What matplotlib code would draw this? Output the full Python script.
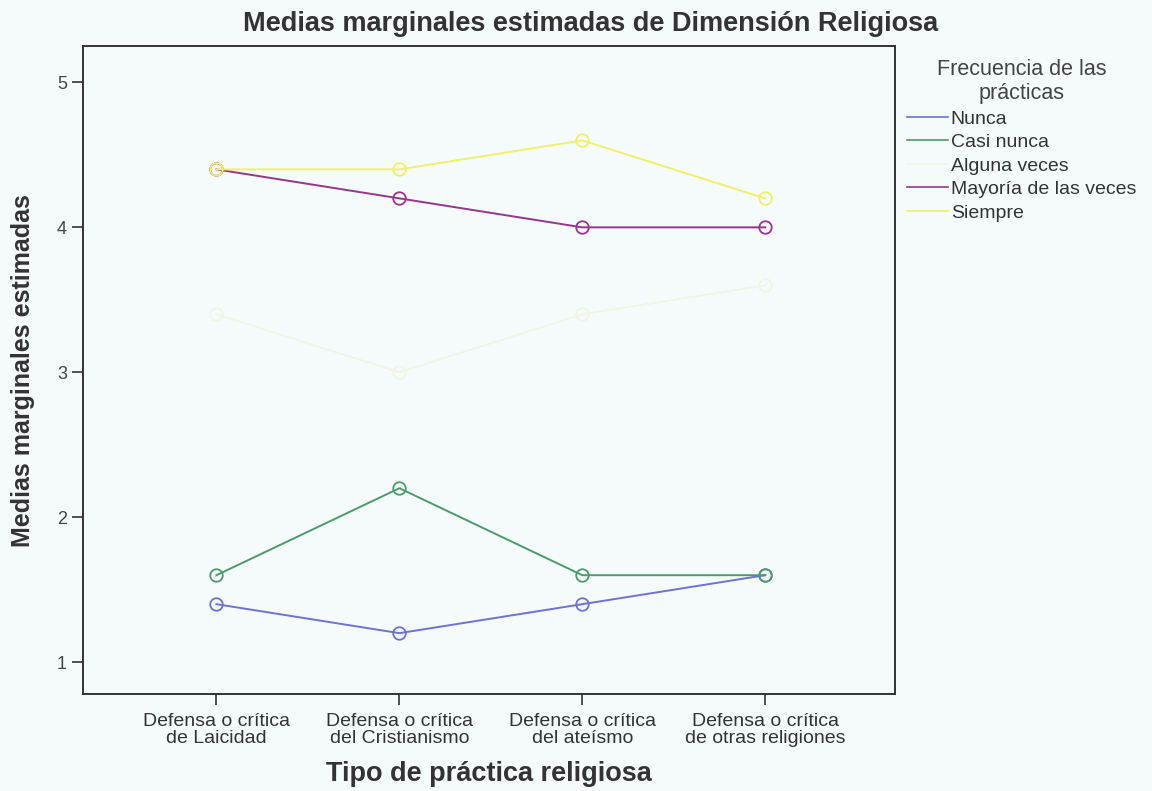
import numpy as np
import matplotlib
matplotlib.use('Agg')
import matplotlib.pyplot as plt

plt.rcParams['font.family'] = ['Liberation Sans', 'DejaVu Sans']

categories = ['Defensa o crítica\nde Laicidad', 'Defensa o crítica\ndel Cristianismo',
              'Defensa o crítica\ndel ateísmo', 'Defensa o crítica\nde otras religiones']
series_names = ['Nunca', 'Casi nunca', 'Alguna veces', 'Mayoría de las veces', 'Siempre']
nunca = [1.4, 1.2, 1.4, 1.6]
casi_nunca = [1.6, 2.2, 1.6, 1.6]
alguna_veces = [3.4, 3.0, 3.4, 3.6]
mayoria = [4.4, 4.2, 4.0, 4.0]
siempre = [4.4, 4.4, 4.6, 4.2]
yticks = [1, 2, 3, 4, 5]

values = [nunca, casi_nunca, alguna_veces, mayoria, siempre]
colors = ['#6f70d8', '#4e9a6c', '#f1f5e6', '#98358c', '#f0f06a']
bg = '#f5fbfb'

fig = plt.figure(figsize=(11.52, 7.91), dpi=100, facecolor=bg)
ax = fig.add_axes([0.072, 0.1226, 0.705, 0.819], facecolor=bg)

x = np.arange(len(categories))
for name, v, c in zip(series_names, values, colors):
    ax.plot(x, v, '-', color=c, lw=1.4, marker='o', ms=9,
            markerfacecolor='none', markeredgecolor=c, mew=1.3, label=name)

ax.set_xlim(-0.73, 3.71)
ax.set_ylim(0.78, 5.25)
ax.set_xticks(x)
ax.set_xticklabels(categories, fontsize=14, color='#333333', linespacing=0.95)
ax.set_yticks(yticks)
ax.set_yticklabels([str(t) for t in yticks], fontsize=13, color='#444444')
ax.tick_params(axis='both', length=8, width=1.2, color='#333333')
ax.tick_params(axis='x', pad=6)
for s in ax.spines.values():
    s.set_color('#333333')
    s.set_linewidth(1.4)

fig.text(0.513, 0.970, 'Medias marginales estimadas de Dimensión Religiosa',
         ha='center', va='center', fontsize=19.5, fontweight='bold', color='#333333')
ax.set_xlabel('Tipo de práctica religiosa', fontsize=19.5, fontweight='bold',
              color='#333333', labelpad=10)
ax.set_ylabel('Medias marginales estimadas', fontsize=18, fontweight='bold',
              color='#333333', labelpad=16)

leg = fig.legend(handles=[plt.Line2D([], [], color=c, lw=1.2) for c in colors],
                 labels=series_names, loc='upper left', bbox_to_anchor=(0.781, 0.935),
                 frameon=False, fontsize=14, handlelength=2.1, handletextpad=0.12,
                 labelspacing=0.3, title='Frecuencia de las\nprácticas',
                 title_fontsize=15.5, borderaxespad=0)
leg.get_title().set_color('#444444')
leg.get_title().set_multialignment('center')
for t in leg.get_texts():
    t.set_color('#333333')

fig.savefig('out.png', dpi=100, facecolor=bg)
